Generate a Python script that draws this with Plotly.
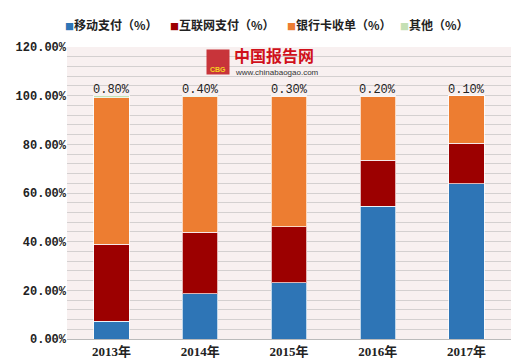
import plotly.graph_objects as go

years = ["2013年", "2014年", "2015年", "2016年", "2017年"]
mobile = [7.3, 18.6, 23.2, 54.6, 63.9]
internet = [31.7, 25.3, 23.0, 18.8, 16.6]
bankcard = [60.2, 55.7, 53.5, 26.4, 19.4]
other = [0.8, 0.4, 0.3, 0.2, 0.1]
other_labels = ["0.80%", "0.40%", "0.30%", "0.20%", "0.10%"]

names = ["移动支付（%）", "互联网支付（%）", "银行卡收单（%）", "其他（%）"]
colors = ["#2E75B6", "#9C0000", "#ED7D31", "#C5E0B4"]
series = [mobile, internet, bankcard, other]

fig = go.Figure()
for n, c, s in zip(names, colors, series):
    fig.add_trace(go.Bar(
        x=years, y=s, name=n,
        marker=dict(color=c, line=dict(color="rgba(255,255,255,0.7)", width=1)),
        width=0.4, showlegend=False,
    ))

totals = [a + b + c + d for a, b, c, d in zip(mobile, internet, bankcard, other)]
for x, t, lab in zip(years, totals, other_labels):
    fig.add_annotation(x=x, y=t, text=lab, showarrow=False, yanchor="bottom", yshift=-3,
                       font=dict(family="Liberation Mono, monospace", size=12, color="#222"))

# legend built as text annotations
legend_x = [55, 160, 277, 390]
for lx, n, c in zip(legend_x, names, colors):
    fig.add_annotation(xref="paper", yref="paper", x=(lx - 59) / 444, y=1 + 22 / 292,
                       xanchor="left", yanchor="middle", showarrow=False,
                       text=f"<span style='color:{c};font-size:9px'>■</span><b>{n}</b>",
                       font=dict(family="Noto Sans CJK SC", size=12, color="#222"))

# watermark logo
fig.add_annotation(xref="paper", yref="paper", x=(224 - 59) / 444, y=1 - 8 / 292, xanchor="left", yanchor="middle",
                   text="<b>中国报告网</b>", showarrow=False,
                   font=dict(family="Noto Sans CJK SC", size=16, color="#D0101B"))
fig.add_annotation(xref="paper", yref="paper", x=(225 - 59) / 444, y=1 - 25 / 292, xanchor="left", yanchor="middle",
                   text="www.chinabaogao.com", showarrow=False,
                   font=dict(family="Liberation Sans, Arial", size=8, color="#333"))
fig.add_annotation(xref="paper", yref="paper", x=(198 - 59) / 444, y=1 - 2 / 292, xanchor="left", yanchor="top",
                   text="<b>CBG</b>", showarrow=False, bgcolor="#C8343A",
                   font=dict(family="Liberation Sans", size=7, color="#F5D020"),
                   width=20, height=22, valign="bottom")

fig.update_layout(
    barmode="stack",
    width=520, height=362,
    margin=dict(l=59, r=17, t=39, b=31, autoexpand=False),
    paper_bgcolor="white",
    plot_bgcolor="#F8F0F0",
    bargap=0.6,
    showlegend=False,
    xaxis=dict(
        tickfont=dict(family="Liberation Serif, Noto Sans CJK SC", size=13, color="#222", weight="bold"),
        showline=True, linecolor="#BBBBBB", ticks="",
    ),
    yaxis=dict(
        range=[0, 120], dtick=20, tickformat=".2f", ticksuffix="%",
        tickfont=dict(family="Liberation Mono, monospace", size=12, color="#222", weight="bold"),
        showgrid=True, gridcolor="#D4D0D0", gridwidth=1,
        minor=dict(dtick=4, showgrid=True, gridcolor="#D4D0D0", gridwidth=1),
        zeroline=False, showline=False, ticks="",
    ),
    shapes=[
        dict(type="rect", xref="paper", yref="paper", x0=(515 - 59) / 444, x1=(525 - 59) / 444,
             y0=-40 / 292, y1=1.2, fillcolor="#C8C8C8", line=dict(width=0), layer="above"),
        dict(type="rect", xref="paper", yref="paper", x0=-0.2, x1=1.2,
             y0=-(359 - 331) / 292, y1=-(363 - 331) / 292, fillcolor="#C8C8C8", line=dict(width=0), layer="above"),
    ],
)

fig.write_html("out.html")
